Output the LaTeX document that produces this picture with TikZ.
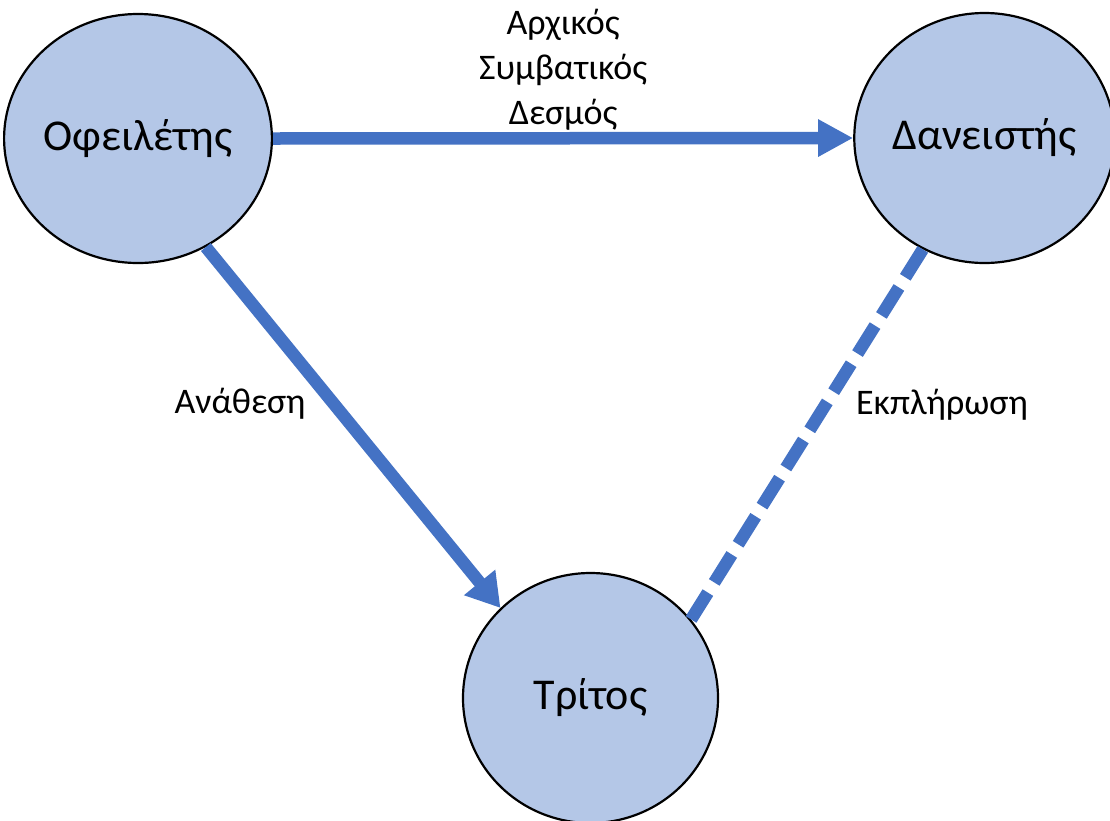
\documentclass[tikz,border=0pt]{standalone}
\usepackage{fontspec}
\setmainfont{Carlito}
\usetikzlibrary{shapes.geometric,arrows.meta}
\definecolor{fillblue}{HTML}{B4C7E7}
\definecolor{lineblue}{HTML}{4472C4}
\begin{document}
\begin{tikzpicture}[x=1pt,y=-1pt,
  party/.style={ellipse,draw=black,line width=2.2pt,fill=fillblue,inner sep=0pt,
    font=\fontsize{44}{52}\selectfont},
  conn/.style={draw=lineblue,line width=12.5pt},
  lbl/.style={font=\fontsize{36}{45}\selectfont,align=center,inner sep=0pt}]
\useasboundingbox[fill=white] (0,0) rectangle (1110,820);
\node[party,minimum width=258pt,minimum height=249pt] (a) at (138,138.5) {Οφειλέτης};
\node[party,minimum width=249pt,minimum height=250pt] (b) at (984.5,138) {Δανειστής};
\node[party,minimum width=255pt,minimum height=250pt] (c) at (590.5,698) {Τρίτος};
\draw[conn,-{Triangle[length=35pt,width=35pt]}] (a.east) -- (b.west)
  node[lbl,midway,above=2pt] {Αρχικός\\Συμβατικός\\Δεσμός};
\draw[conn,-{Triangle[length=33pt,width=38pt]}] (a.-58.5) -- (c.135);
\draw[conn,dash pattern=on 33pt off 12pt] (b.241) -- (c.38.7);
\node[lbl] (l1) at (240,404) {Ανάθεση};
\node[lbl] (l2) at (942,405) {Εκπλήρωση};
\end{tikzpicture}
\end{document}
